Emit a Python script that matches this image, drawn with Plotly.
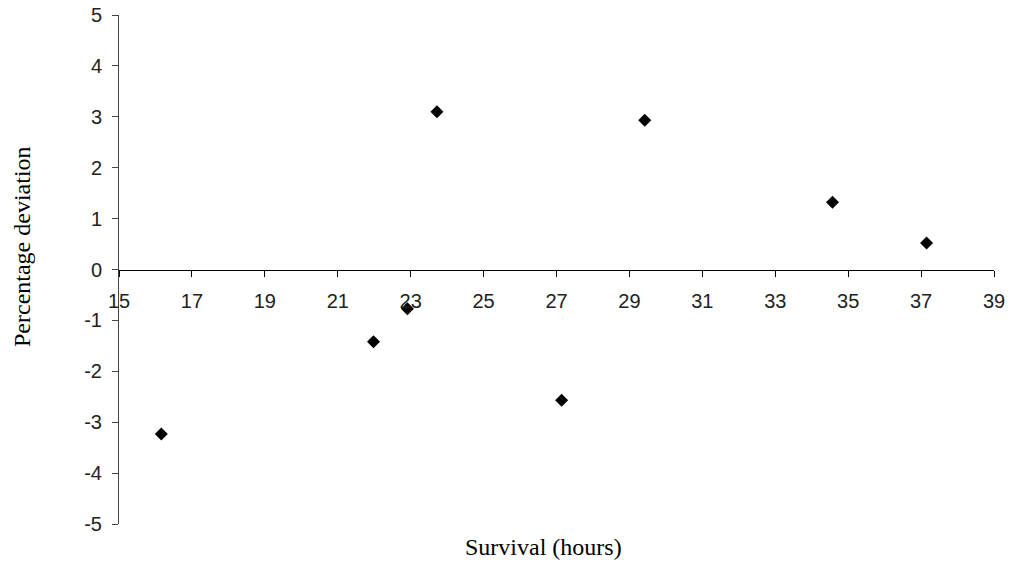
import plotly.graph_objects as go

survival_hours = [16.16, 21.98, 22.91, 23.72, 27.14, 29.42, 34.57, 37.15]
percentage_deviation = [-3.23, -1.42, -0.77, 3.10, -2.57, 2.93, 1.32, 0.52]
x_ticks = list(range(15, 40, 2))
y_ticks = list(range(-5, 6, 1))
y_tick_text = [str(v) for v in y_ticks]  # plain hyphen minus as in reference

W, H = 1011, 562
L, R, T, B = 119, 17, 15, 38

fig = go.Figure()
fig.add_trace(go.Scatter(
    x=survival_hours, y=percentage_deviation, mode="markers",
    marker=dict(symbol="diamond", size=10, color="black"),
    showlegend=False,
))

fig.update_layout(
    width=W, height=H,
    margin=dict(l=L, r=R, t=T, b=B, autoexpand=False),
    paper_bgcolor="white", plot_bgcolor="white",
    font=dict(family="Liberation Sans, Arial", size=20, color="black"),
    xaxis=dict(
        range=[15, 39], tickvals=x_ticks, showgrid=False, zeroline=False,
        showline=True, linecolor="black", linewidth=1,
        ticks="outside", ticklen=6, tickcolor="black",
        anchor="free", position=0.5, ticklabelstandoff=7, automargin=False,
        ticklabeloverflow="allow",
        tickfont=dict(size=20, color="#222"),
    ),
    yaxis=dict(
        range=[-5, 5], tickvals=y_ticks, ticktext=y_tick_text,
        showgrid=False, zeroline=False,
        showline=True, linecolor="#444", linewidth=1,
        ticks="outside", ticklen=6, tickcolor="#444", automargin=False,
        ticklabeloverflow="allow",
        ticklabelstandoff=6, tickfont=dict(size=20, color="#222"),
    ),
    annotations=[
        dict(text="Survival (hours)", x=543, y=547, xref="paper", yref="paper",
             xanchor="center", yanchor="middle", showarrow=False,
             font=dict(family="Liberation Serif, Times New Roman", size=24)),
        dict(text="Percentage deviation", x=22, y=247, xref="paper", yref="paper",
             xanchor="center", yanchor="middle", showarrow=False, textangle=-90,
             font=dict(family="Liberation Serif, Times New Roman", size=24)),
    ],
)

# convert pixel annotation positions to paper fractions
pw = W - L - R
ph = H - T - B
for a in fig.layout.annotations:
    a.x = (a.x - L) / pw
    a.y = (H - B - a.y) / ph

# remove the browser's default 8px body margin so the figure sits at the page origin
fig.write_html("out.html", config={"displayModeBar": False},
               post_script="document.body.style.margin='0';")
